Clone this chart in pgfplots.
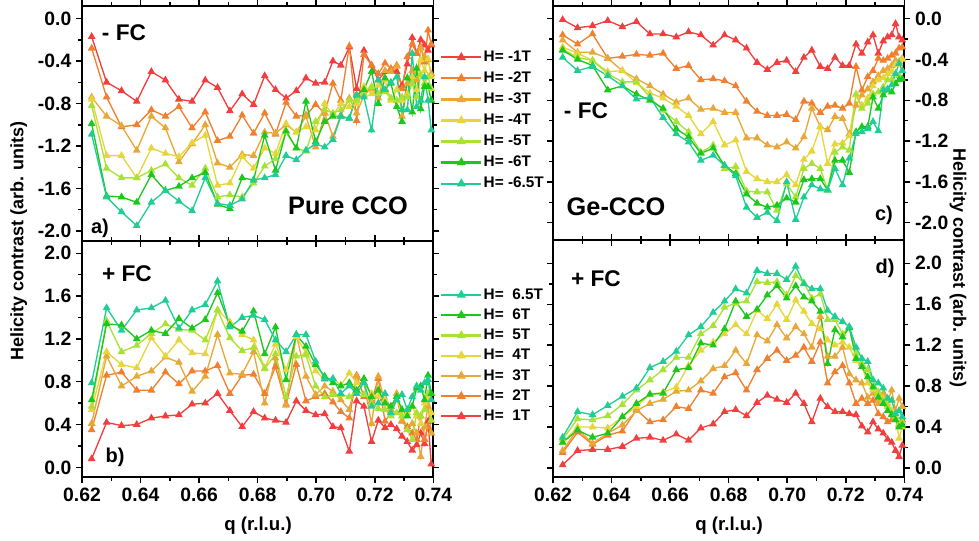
\documentclass[border=0pt]{standalone}
\usepackage{fontspec}
\setmainfont{Liberation Sans}
\usepackage{pgfplots}
\usepackage{pgfplotstable}
\pgfplotsset{compat=1.18}
\definecolor{c1}{RGB}{242,62,62}
\definecolor{c2}{RGB}{240,128,48}
\definecolor{c3}{RGB}{232,168,56}
\definecolor{c4}{RGB}{230,214,60}
\definecolor{c5}{RGB}{168,226,52}
\definecolor{c6}{RGB}{28,200,28}
\definecolor{c7}{RGB}{30,206,150}

\pgfplotstableread{
q a1 a2 a3 a4 a5 a6 a7
0.6233 -0.17 -0.28 -0.74 -0.76 -0.82 -0.99 -1.09
0.6284 -0.60 -0.74 -0.92 -1.29 -1.41 -1.67 -1.68
0.6335 -0.68 -1.02 -1.01 -1.29 -1.50 -1.68 -1.82
0.6387 -0.78 -1.00 -1.24 -1.50 -1.50 -1.73 -1.95
0.6437 -0.50 -0.86 -0.92 -1.22 -1.43 -1.47 -1.73
0.6485 -0.58 -0.92 -1.03 -1.27 -1.37 -1.62 -1.62
0.6531 -0.76 -0.83 -1.35 -1.30 -1.50 -1.58 -1.72
0.6576 -0.78 -1.03 -1.18 -1.17 -1.57 -1.50 -1.81
0.6621 -0.58 -0.88 -1.00 -1.10 -1.41 -1.45 -1.50
0.6663 -0.65 -1.15 -1.36 -1.57 -1.68 -1.75 -1.74
0.6705 -0.87 -1.11 -1.40 -1.55 -1.66 -1.79 -1.76
0.6747 -0.71 -0.91 -1.28 -1.30 -1.68 -1.50 -1.70
0.6786 -0.81 -1.08 -1.29 -1.41 -1.55 -1.52 -1.52
0.6824 -0.54 -0.89 -1.07 -1.22 -1.39 -1.10 -1.50
0.6861 -0.67 -1.09 -1.08 -1.27 -1.32 -1.43 -1.47
0.6897 -0.75 -0.79 -1.00 -0.99 -1.07 -1.06 -1.29
0.6932 -0.68 -0.92 -1.07 -1.07 -1.22 -1.22 -1.33
0.6965 -0.56 -0.91 -0.92 -1.02 -1.25 -0.78 -1.24
0.6998 -0.61 -0.81 -1.21 -1.05 -0.97 -1.16 -1.18
0.7029 -0.60 -0.89 -0.89 -0.80 -0.86 -0.97 -1.21
0.7057 -0.40 -0.61 -1.11 -0.91 -0.89 -0.92 -1.14
0.7084 -0.44 -0.77 -0.91 -0.80 -0.86 -0.92 -0.92
0.7113 -0.27 -0.26 -0.75 -0.83 -0.77 -0.94 -0.94
0.7138 -0.66 -0.96 -0.89 -0.80 -0.77 -0.72 -0.72
0.7163 -0.30 -0.34 -0.72 -0.64 -0.71 -0.67 -0.74
0.7189 -0.44 -0.44 -0.66 -0.71 -0.64 -0.50 -1.05
0.7212 -0.58 -0.52 -0.75 -0.63 -0.71 -0.80 -0.58
0.7235 -0.50 -0.42 -0.49 -0.58 -0.69 -0.56 -0.67
0.7255 -0.48 -0.47 -0.50 -0.77 -0.75 -0.61 -0.60
0.7275 -0.50 -0.44 -0.45 -0.67 -0.77 -0.83 -0.55
0.7293 -0.63 -0.66 -0.92 -0.77 -0.74 -0.97 -0.86
0.7311 -0.43 -0.36 -0.61 -0.71 -0.74 -0.56 -0.86
0.7328 -0.18 -0.24 -0.49 -0.55 -0.61 -0.88 -0.33
0.7343 -0.33 -0.33 -0.58 -0.67 -0.74 -0.47 -0.83
0.7357 -0.20 -0.27 -0.28 -0.39 -0.53 -0.85 -0.77
0.7370 -0.25 -0.41 -0.36 -0.49 -0.61 -0.64 -0.55
0.7382 -0.30 -0.11 -0.39 -0.38 -0.55 -0.64 -0.77
0.7393 -0.25 -0.24 -0.52 -0.55 -0.66 -0.77 -1.05
}\tabA

\pgfplotstableread{
q b1 b2 b3 b4 b5 b6 b7
0.6233 0.08 0.35 0.41 0.54 0.57 0.63 0.79
0.6284 0.42 0.86 1.04 1.08 1.37 1.34 1.49
0.6335 0.39 0.89 0.76 0.96 1.08 1.33 1.28
0.6387 0.40 0.72 0.85 0.93 1.14 1.20 1.47
0.6437 0.46 0.72 0.90 1.21 1.25 1.28 1.49
0.6485 0.48 0.89 1.03 1.04 1.34 1.25 1.56
0.6531 0.49 0.78 0.98 1.19 1.29 1.39 1.30
0.6576 0.59 0.90 0.71 1.07 1.28 1.30 1.47
0.6621 0.60 0.90 0.85 1.06 1.19 1.38 1.52
0.6663 0.69 0.95 1.24 1.47 1.47 1.63 1.74
0.6705 0.53 0.69 0.88 1.36 1.21 1.33 1.31
0.6747 0.38 0.86 0.87 1.24 1.09 1.27 1.40
0.6786 0.52 0.87 1.08 1.19 1.12 1.46 1.42
0.6824 0.46 0.69 0.60 0.93 0.92 1.06 1.38
0.6861 0.44 0.94 1.02 1.15 1.06 1.31 1.19
0.6897 0.42 0.59 0.58 0.91 0.66 0.82 1.08
0.6932 0.62 0.96 1.24 1.22 1.04 1.24 1.24
0.6965 0.53 0.62 0.85 1.07 1.05 1.13 1.24
0.6998 0.49 0.66 0.68 0.90 0.76 0.96 0.99
0.7029 0.50 0.69 0.76 0.82 0.66 0.85 0.83
0.7057 0.38 0.61 0.71 0.83 0.68 0.79 0.83
0.7084 0.37 0.52 0.63 0.77 0.68 0.76 0.69
0.7113 0.15 0.46 0.54 0.88 0.66 0.79 0.76
0.7138 0.62 0.86 0.85 0.79 0.71 0.72 0.69
0.7163 0.57 0.66 0.79 0.79 0.68 0.83 0.79
0.7189 0.24 0.62 0.41 0.69 0.60 0.66 0.57
0.7212 0.44 0.83 0.85 0.66 0.55 0.72 0.60
0.7235 0.37 0.43 0.60 0.63 0.54 0.60 0.69
0.7255 0.40 0.51 0.54 0.57 0.48 0.57 0.51
0.7275 0.36 0.66 0.69 0.66 0.51 0.66 0.63
0.7293 0.29 0.43 0.44 0.48 0.48 0.54 0.68
0.7311 0.24 0.38 0.35 0.51 0.35 0.48 0.54
0.7328 0.16 0.32 0.41 0.57 0.26 0.57 0.66
0.7343 0.21 0.26 0.32 0.48 0.51 0.74 0.76
0.7357 0.32 0.48 0.10 0.41 0.48 0.76 0.72
0.7370 0.22 0.26 0.38 0.60 0.54 0.63 0.79
0.7382 0.43 0.38 0.57 0.66 0.69 0.86 0.82
0.7393 0.03 0.32 0.32 0.51 0.44 0.69 0.63
}\tabB

\pgfplotstableread{
q c1 c2 c3 c4 c5 c6 c7
0.6233 -0.01 -0.16 -0.21 -0.28 -0.30 -0.31 -0.38
0.6284 -0.09 -0.25 -0.33 -0.34 -0.38 -0.40 -0.51
0.6335 -0.07 -0.15 -0.33 -0.41 -0.41 -0.46 -0.47
0.6387 -0.02 -0.39 -0.39 -0.52 -0.54 -0.70 -0.56
0.6437 -0.08 -0.37 -0.51 -0.51 -0.62 -0.66 -0.66
0.6485 -0.03 -0.35 -0.59 -0.63 -0.62 -0.74 -0.79
0.6531 -0.15 -0.36 -0.66 -0.73 -0.77 -0.80 -0.77
0.6576 -0.15 -0.34 -0.74 -0.78 -0.90 -0.88 -0.97
0.6621 -0.18 -0.49 -0.82 -0.86 -1.01 -1.08 -1.13
0.6663 -0.13 -0.46 -0.78 -0.95 -1.11 -1.16 -1.21
0.6705 -0.16 -0.60 -0.89 -1.13 -1.31 -1.32 -1.39
0.6747 -0.26 -0.59 -0.88 -1.01 -1.24 -1.27 -1.34
0.6786 -0.16 -0.61 -0.92 -1.24 -1.47 -1.44 -1.44
0.6824 -0.21 -0.66 -0.92 -1.19 -1.45 -1.52 -1.54
0.6861 -0.29 -0.81 -1.17 -1.50 -1.69 -1.72 -1.85
0.6897 -0.43 -0.91 -1.17 -1.57 -1.70 -1.81 -1.95
0.6932 -0.50 -0.95 -1.24 -1.60 -1.70 -1.85 -1.90
0.6965 -0.43 -0.95 -1.26 -1.60 -1.88 -1.83 -1.98
0.6998 -0.41 -0.94 -1.21 -1.53 -1.62 -1.76 -1.60
0.7029 -0.52 -0.99 -1.27 -1.63 -1.75 -1.80 -1.97
0.7057 -0.38 -0.81 -1.16 -1.38 -1.47 -1.58 -1.75
0.7084 -0.31 -0.83 -0.88 -1.30 -1.42 -1.57 -1.63
0.7113 -0.47 -0.92 -1.06 -1.06 -1.47 -1.57 -1.67
0.7138 -0.49 -0.86 -1.09 -1.42 -1.68 -1.68 -1.68
0.7163 -0.38 -0.85 -0.96 -1.23 -1.31 -1.39 -1.47
0.7189 -0.46 -0.88 -0.98 -1.22 -1.26 -1.39 -1.63
0.7212 -0.46 -0.83 -1.13 -1.15 -1.29 -1.51 -1.37
0.7235 -0.25 -0.47 -0.85 -0.75 -0.74 -1.11 -1.13
0.7255 -0.34 -0.70 -0.75 -0.85 -0.88 -1.06 -1.11
0.7275 -0.23 -0.57 -0.69 -0.78 -0.83 -1.06 -1.08
0.7293 -0.16 -0.51 -0.62 -0.66 -0.74 -0.77 -1.01
0.7311 -0.34 -0.39 -0.56 -0.60 -0.72 -0.88 -1.10
0.7328 -0.22 -0.41 -0.51 -0.58 -0.67 -0.75 -0.70
0.7343 -0.18 -0.39 -0.49 -0.54 -0.60 -0.70 -0.69
0.7357 -0.16 -0.36 -0.46 -0.52 -0.60 -0.72 -0.65
0.7370 -0.05 -0.34 -0.41 -0.45 -0.54 -0.64 -0.54
0.7382 -0.18 -0.29 -0.42 -0.44 -0.56 -0.60 -0.44
0.7393 -0.21 -0.28 -0.39 -0.40 -0.51 -0.59 -0.51
}\tabC

\pgfplotstableread{
q d1 d2 d3 d4 d5 d6 d7
0.6233 0.03 0.15 0.17 0.25 0.28 0.25 0.30
0.6284 0.17 0.35 0.38 0.40 0.48 0.37 0.55
0.6335 0.18 0.23 0.24 0.40 0.47 0.30 0.52
0.6387 0.18 0.32 0.34 0.39 0.51 0.34 0.61
0.6437 0.21 0.36 0.42 0.50 0.62 0.50 0.70
0.6485 0.29 0.57 0.56 0.60 0.76 0.63 0.78
0.6531 0.30 0.45 0.63 0.72 0.86 0.72 0.98
0.6576 0.27 0.47 0.67 0.74 0.96 0.73 1.04
0.6621 0.33 0.60 0.75 0.79 1.08 0.96 1.14
0.6663 0.27 0.58 0.76 1.00 1.08 0.98 1.30
0.6705 0.39 0.76 0.85 1.15 1.31 1.22 1.38
0.6747 0.43 0.73 0.97 1.23 1.39 1.20 1.52
0.6786 0.55 0.89 1.00 1.31 1.57 1.36 1.63
0.6824 0.57 0.93 1.15 1.40 1.61 1.63 1.75
0.6861 0.51 0.76 1.02 1.31 1.63 1.48 1.71
0.6897 0.64 0.96 1.30 1.54 1.82 1.55 1.93
0.6932 0.71 1.07 1.24 1.46 1.81 1.69 1.90
0.6965 0.67 1.15 1.40 1.60 1.82 1.78 1.90
0.6998 0.64 1.05 1.27 1.45 1.69 1.66 1.84
0.7029 0.73 1.10 1.38 1.64 1.88 1.78 1.97
0.7057 0.63 1.18 1.31 1.53 1.81 1.67 1.80
0.7084 0.45 1.04 1.18 1.41 1.66 1.63 1.75
0.7113 0.68 1.23 1.48 1.36 1.70 1.53 1.75
0.7138 0.60 0.83 1.09 1.25 1.45 1.02 1.54
0.7163 0.55 0.94 1.09 1.20 1.45 1.35 1.48
0.7189 0.55 1.00 1.18 1.23 1.31 1.28 1.43
0.7212 0.53 0.83 0.92 1.18 1.38 1.37 1.38
0.7235 0.52 0.63 0.86 1.05 1.12 1.07 1.18
0.7255 0.41 0.68 0.83 0.99 1.02 0.99 1.07
0.7275 0.35 0.63 0.69 0.83 0.96 0.89 1.04
0.7293 0.45 0.66 0.73 0.76 0.86 0.79 0.86
0.7311 0.38 0.53 0.63 0.74 0.74 0.69 0.83
0.7328 0.34 0.50 0.73 0.68 0.66 0.63 0.78
0.7343 0.28 0.45 0.66 0.63 0.60 0.56 0.68
0.7357 0.25 0.47 0.76 0.56 0.53 0.52 0.66
0.7370 0.17 0.50 0.56 0.50 0.47 0.47 0.53
0.7382 0.11 0.42 0.68 0.29 0.43 0.40 0.56
0.7393 0.22 0.47 0.60 0.40 0.45 0.42 0.50
}\tabD

\pgfplotsset{
  panel/.style={
    scale only axis, width=263.5pt,
    xmin=0.62, xmax=0.74,
    xtick={0.62,0.64,0.66,0.68,0.70,0.72,0.74},
    minor x tick num=1, minor y tick num=1,
    tick align=outside,
    axis line style={line width=1.3pt},
    every tick/.style={black, line width=1.1pt},
    major tick length=4.5pt, minor tick length=2.8pt,
    ticklabel style={font=\bfseries\fontsize{14.5}{16}\selectfont},
    /pgf/number format/assume math mode=true,
    xticklabel style={/pgf/number format/fixed, /pgf/number format/fixed zerofill, /pgf/number format/precision=2},
    yticklabel style={/pgf/number format/fixed, /pgf/number format/fixed zerofill, /pgf/number format/precision=1},
    legend style={draw=none, fill=none, font=\bfseries\fontsize{11.5}{13}\selectfont,
      inner sep=0pt, row sep=4.3pt, nodes={inner sep=1pt}},
    legend cell align=left,
    legend image code/.code={\draw[line width=1.6pt, mark repeat=2,mark phase=2] plot coordinates {(0pt,0pt)(15pt,0pt)(30pt,0pt)};},
  },
  s/.style={color=#1, draw=#1, line width=1pt, mark=triangle*, mark size=2.4pt, mark options={solid, fill=#1, draw=#1}},
}

\begin{document}
\begin{tikzpicture}
\useasboundingbox (0,0) rectangle (734.25pt,405pt);

% panel a
\begin{axis}[panel, at={(61.5pt,224.25pt)}, anchor=south west, height=176.25pt,
  ymin=-2.094, ymax=0.118, ytick={-2.0,-1.6,-1.2,-0.8,-0.4,0.0}, xticklabels={},
  legend style={at={(1.019,0.815)}, anchor=north west}]
\addplot[s=c1] table[x=q,y=a1]{\tabA}; \addlegendentry{H= -1T}
\addplot[s=c2] table[x=q,y=a2]{\tabA}; \addlegendentry{H= -2T}
\addplot[s=c3] table[x=q,y=a3]{\tabA}; \addlegendentry{H= -3T}
\addplot[s=c4] table[x=q,y=a4]{\tabA}; \addlegendentry{H= -4T}
\addplot[s=c5] table[x=q,y=a5]{\tabA}; \addlegendentry{H= -5T}
\addplot[s=c6] table[x=q,y=a6]{\tabA}; \addlegendentry{H= -6T}
\addplot[s=c7] table[x=q,y=a7]{\tabA}; \addlegendentry{H= -6.5T}
\end{axis}

% panel b
\begin{axis}[panel, at={(61.5pt,47.25pt)}, anchor=south west, height=177pt,
  ymin=-0.09, ymax=2.115, ytick={0.0,0.4,0.8,1.2,1.6,2.0},
  reverse legend,
  legend style={at={(1.019,0.805)}, anchor=north west, row sep=3.7pt}]
\addplot[s=c1] table[x=q,y=b1]{\tabB}; \addlegendentry{H=~~1T}
\addplot[s=c2] table[x=q,y=b2]{\tabB}; \addlegendentry{H=~~2T}
\addplot[s=c3] table[x=q,y=b3]{\tabB}; \addlegendentry{H=~~3T}
\addplot[s=c4] table[x=q,y=b4]{\tabB}; \addlegendentry{H=~~4T}
\addplot[s=c5] table[x=q,y=b5]{\tabB}; \addlegendentry{H=~~5T}
\addplot[s=c6] table[x=q,y=b6]{\tabB}; \addlegendentry{H=~~6T}
\addplot[s=c7] table[x=q,y=b7]{\tabB}; \addlegendentry{H=~~6.5T}
\end{axis}

% panel c
\begin{axis}[panel, at={(414.75pt,225pt)}, anchor=south west, height=175.5pt,
  ymin=-2.17, ymax=0.124, ytick={-2.0,-1.6,-1.2,-0.8,-0.4,0.0}, xticklabels={},
  yticklabel pos=right]
\addplot[s=c1] table[x=q,y=c1]{\tabC};
\addplot[s=c2] table[x=q,y=c2]{\tabC};
\addplot[s=c3] table[x=q,y=c3]{\tabC};
\addplot[s=c4] table[x=q,y=c4]{\tabC};
\addplot[s=c5] table[x=q,y=c5]{\tabC};
\addplot[s=c6] table[x=q,y=c6]{\tabC};
\addplot[s=c7] table[x=q,y=c7]{\tabC};
\end{axis}

% panel d
\begin{axis}[panel, at={(414.75pt,47.25pt)}, anchor=south west, height=177.75pt,
  ymin=-0.088, ymax=2.228, ytick={0.0,0.4,0.8,1.2,1.6,2.0},
  yticklabel pos=right]
\addplot[s=c1] table[x=q,y=d1]{\tabD};
\addplot[s=c2] table[x=q,y=d2]{\tabD};
\addplot[s=c3] table[x=q,y=d3]{\tabD};
\addplot[s=c4] table[x=q,y=d4]{\tabD};
\addplot[s=c5] table[x=q,y=d5]{\tabD};
\addplot[s=c6] table[x=q,y=d6]{\tabD};
\addplot[s=c7] table[x=q,y=d7]{\tabD};
\end{axis}

% annotations
\begin{scope}[every node/.style={font=\bfseries}]
\node[font=\bfseries\fontsize{17}{19}\selectfont] at (93pt,380.25pt) {- FC};
\node[font=\bfseries\fontsize{19}{21}\selectfont] at (261pt,250.5pt) {Pure CCO};
\node[font=\bfseries\fontsize{15}{17}\selectfont] at (75pt,234pt) {a)};
\node[font=\bfseries\fontsize{17}{19}\selectfont] at (95.25pt,199.5pt) {+ FC};
\node[font=\bfseries\fontsize{15}{17}\selectfont] at (86.25pt,62.25pt) {b)};
\node[font=\bfseries\fontsize{17}{19}\selectfont] at (439.5pt,321.75pt) {- FC};
\node[font=\bfseries\fontsize{19}{21}\selectfont] at (462pt,249.75pt) {Ge-CCO};
\node[font=\bfseries\fontsize{15}{17}\selectfont] at (663pt,243.75pt) {c)};
\node[font=\bfseries\fontsize{17}{19}\selectfont] at (447pt,195.75pt) {+ FC};
\node[font=\bfseries\fontsize{15}{17}\selectfont] at (663.75pt,204pt) {d)};
\node[font=\bfseries\fontsize{13.5}{15}\selectfont, rotate=90] at (14pt,224.25pt) {Helicity contrast (arb. units)};
\node[font=\bfseries\fontsize{13.5}{15}\selectfont, rotate=-90] at (718.5pt,204pt) {Helicity contrast (arb. units)};
\node[font=\bfseries\fontsize{14}{16}\selectfont] at (193.5pt,10.5pt) {q (r.l.u.)};
\node[font=\bfseries\fontsize{14}{16}\selectfont] at (546.75pt,10.5pt) {q (r.l.u.)};
\end{scope}
\end{tikzpicture}
\end{document}
